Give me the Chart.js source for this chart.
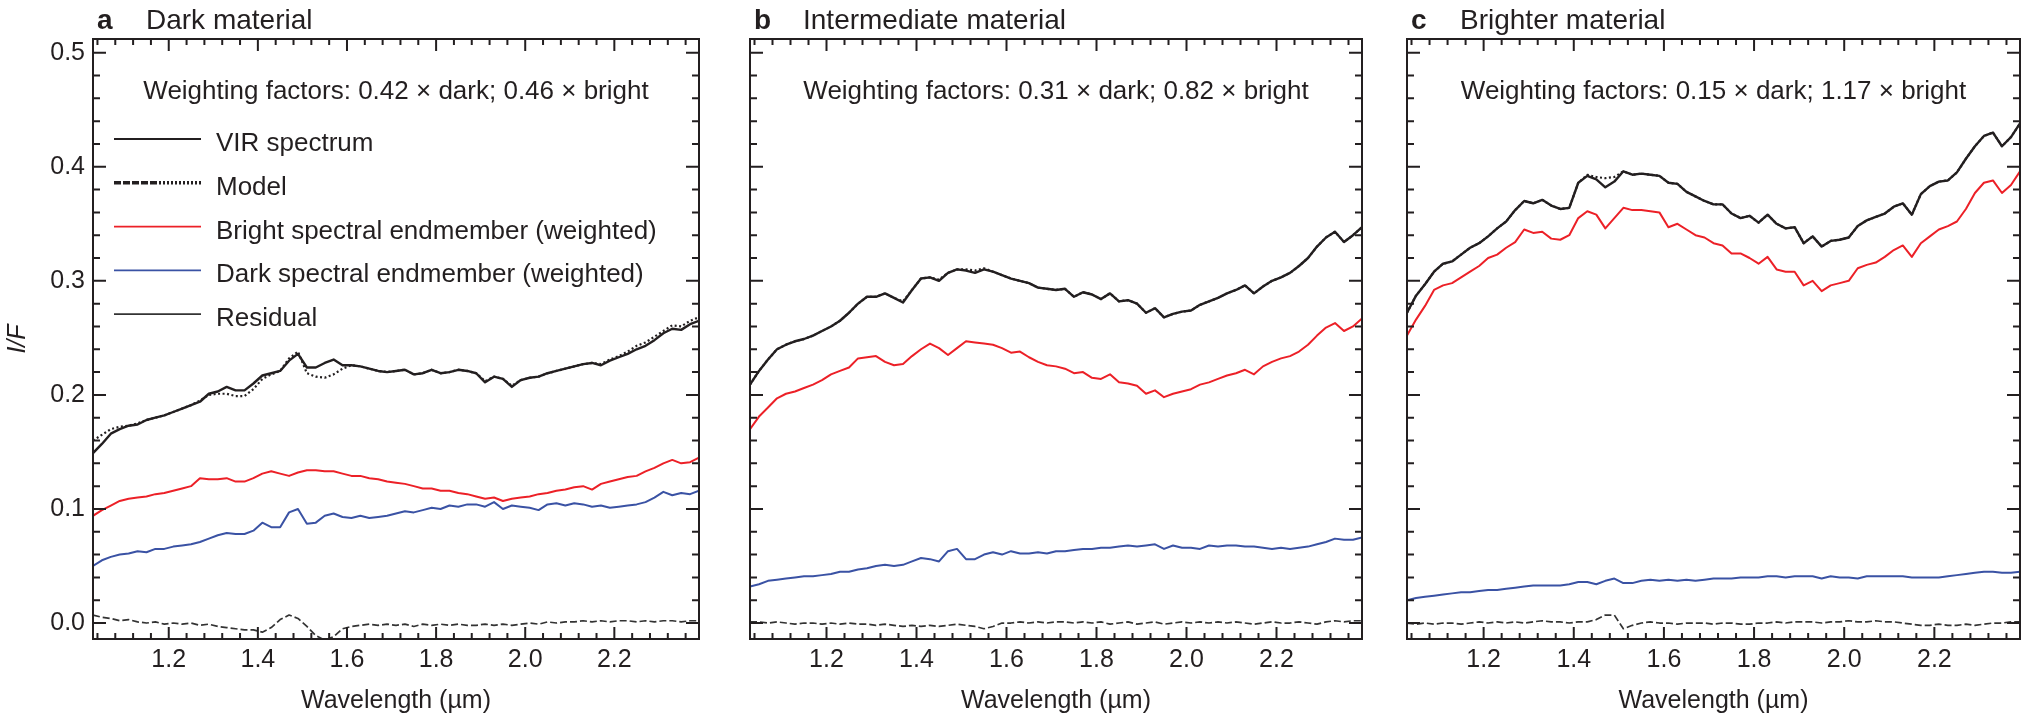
<!DOCTYPE html>
<html>
<head>
<meta charset="utf-8">
<title>VIR spectra - linear mixing of dark and bright endmembers</title>
<script src="https://cdn.jsdelivr.net/npm/chart.js@4.4.1/dist/chart.umd.min.js"></script>
<style>
  html, body { margin: 0; padding: 0; background: #ffffff; }
  #wrap { position: relative; width: 2034px; height: 720px; }
  #wrap canvas { position: absolute; left: 0; top: 0; }
</style>
</head>
<body>
<div id="wrap">
  <canvas id="panel_a" width="2034" height="720"></canvas>
  <canvas id="panel_b" width="2034" height="720"></canvas>
  <canvas id="panel_c" width="2034" height="720"></canvas>
</div>
<script>
"use strict";

// ---- data ----

// wavelength grid, micrometres
const wavelengths = [
  1.03, 1.05, 1.07, 1.09, 1.11, 1.13, 1.15, 1.17, 1.19, 1.21,
  1.23, 1.25, 1.27, 1.29, 1.31, 1.33, 1.35, 1.37, 1.39, 1.41,
  1.43, 1.45, 1.47, 1.49, 1.51, 1.53, 1.55, 1.57, 1.59, 1.61,
  1.63, 1.65, 1.67, 1.69, 1.71, 1.73, 1.75, 1.77, 1.79, 1.81,
  1.83, 1.85, 1.87, 1.89, 1.91, 1.93, 1.95, 1.97, 1.99, 2.01,
  2.03, 2.05, 2.07, 2.09, 2.11, 2.13, 2.15, 2.17, 2.19, 2.21,
  2.23, 2.25, 2.27, 2.29, 2.31, 2.33, 2.35, 2.37, 2.39
];

// tick labels
const xTickValues = [1.2, 1.4, 1.6, 1.8, 2.0, 2.2];
const yTickValues = [0.0, 0.1, 0.2, 0.3, 0.4, 0.5];

// panel a : dark material
const aVir = [
  0.149, 0.157, 0.166, 0.170, 0.173, 0.174, 0.178, 0.180, 0.182, 0.185,
  0.188, 0.191, 0.194, 0.201, 0.203, 0.207, 0.204, 0.204, 0.210, 0.217,
  0.219, 0.221, 0.230, 0.236, 0.224, 0.224, 0.228, 0.231, 0.226, 0.226,
  0.225, 0.223, 0.221, 0.220, 0.221, 0.222, 0.218, 0.219, 0.222, 0.219,
  0.220, 0.222, 0.221, 0.219, 0.211, 0.216, 0.214, 0.207, 0.213, 0.215,
  0.216, 0.219, 0.221, 0.223, 0.225, 0.227, 0.228, 0.226, 0.230, 0.233,
  0.236, 0.240, 0.243, 0.248, 0.254, 0.258, 0.257, 0.262, 0.265
];
const aModel = [
  0.160, 0.165, 0.170, 0.172, 0.173, 0.175, 0.178, 0.180, 0.182, 0.185,
  0.188, 0.191, 0.195, 0.200, 0.201, 0.201, 0.199, 0.199, 0.205, 0.214,
  0.218, 0.221, 0.232, 0.238, 0.219, 0.216, 0.215, 0.218, 0.223, 0.226,
  0.225, 0.223, 0.221, 0.220, 0.221, 0.222, 0.218, 0.219, 0.222, 0.219,
  0.220, 0.222, 0.221, 0.219, 0.212, 0.216, 0.214, 0.208, 0.213, 0.215,
  0.216, 0.219, 0.221, 0.223, 0.225, 0.227, 0.228, 0.227, 0.231, 0.234,
  0.238, 0.243, 0.246, 0.251, 0.256, 0.261, 0.260, 0.265, 0.268
];
const aBright = [
  0.094, 0.099, 0.103, 0.107, 0.109, 0.110, 0.111, 0.113, 0.114, 0.116,
  0.118, 0.120, 0.127, 0.126, 0.126, 0.127, 0.124, 0.124, 0.127, 0.131,
  0.133, 0.131, 0.129, 0.132, 0.134, 0.134, 0.133, 0.133, 0.131, 0.129,
  0.129, 0.127, 0.126, 0.124, 0.123, 0.122, 0.120, 0.118, 0.118, 0.116,
  0.116, 0.114, 0.113, 0.111, 0.109, 0.110, 0.107, 0.109, 0.110, 0.111,
  0.113, 0.114, 0.116, 0.117, 0.119, 0.120, 0.117, 0.122, 0.124, 0.126,
  0.128, 0.129, 0.133, 0.136, 0.140, 0.143, 0.140, 0.141, 0.145
];
const aDarkEnd = [
  0.050, 0.055, 0.058, 0.060, 0.061, 0.063, 0.062, 0.065, 0.065, 0.067,
  0.068, 0.069, 0.071, 0.074, 0.077, 0.079, 0.078, 0.078, 0.081, 0.088,
  0.084, 0.084, 0.097, 0.100, 0.087, 0.088, 0.094, 0.096, 0.093, 0.092,
  0.094, 0.092, 0.093, 0.094, 0.096, 0.098, 0.097, 0.099, 0.101, 0.100,
  0.103, 0.102, 0.104, 0.104, 0.102, 0.106, 0.100, 0.103, 0.102, 0.101,
  0.099, 0.104, 0.105, 0.103, 0.105, 0.104, 0.102, 0.103, 0.101, 0.102,
  0.103, 0.104, 0.106, 0.110, 0.115, 0.112, 0.114, 0.113, 0.116
];
const aResidual = [
  0.007, 0.005, 0.004, 0.002, 0.003, 0.001, 0.000, 0.001, -0.001, 0.000,
  -0.001, 0.000, -0.002, -0.001, -0.003, -0.004, -0.005, -0.006, -0.006, -0.008,
  -0.004, 0.003, 0.007, 0.004, -0.003, -0.011, -0.015, -0.012, -0.005, -0.003,
  -0.002, -0.001, -0.002, -0.001, -0.002, -0.001, -0.003, -0.001, -0.002, -0.001,
  -0.002, -0.001, -0.002, -0.002, -0.001, -0.002, -0.001, -0.002, -0.001, 0.000,
  -0.001, 0.001, 0.000, 0.001, 0.001, 0.002, 0.001, 0.002, 0.001, 0.002,
  0.002, 0.001, 0.002, 0.001, 0.002, 0.002, 0.001, 0.002, 0.002
];

// panel b : intermediate material
const bVir = [
  0.209, 0.221, 0.231, 0.240, 0.244, 0.247, 0.249, 0.252, 0.256, 0.260,
  0.265, 0.272, 0.280, 0.286, 0.286, 0.289, 0.285, 0.281, 0.292, 0.302,
  0.303, 0.300, 0.307, 0.310, 0.309, 0.307, 0.310, 0.308, 0.305, 0.302,
  0.300, 0.298, 0.294, 0.293, 0.292, 0.293, 0.286, 0.290, 0.288, 0.284,
  0.289, 0.282, 0.283, 0.280, 0.272, 0.276, 0.268, 0.271, 0.273, 0.274,
  0.279, 0.282, 0.285, 0.289, 0.292, 0.296, 0.289, 0.295, 0.300, 0.303,
  0.307, 0.313, 0.320, 0.330, 0.338, 0.343, 0.334, 0.340, 0.347
];
const bModel = [
  0.209, 0.221, 0.231, 0.240, 0.244, 0.247, 0.249, 0.252, 0.256, 0.260,
  0.265, 0.272, 0.280, 0.286, 0.286, 0.289, 0.285, 0.282, 0.292, 0.302,
  0.303, 0.301, 0.307, 0.310, 0.310, 0.309, 0.311, 0.308, 0.305, 0.302,
  0.300, 0.298, 0.294, 0.293, 0.292, 0.293, 0.286, 0.290, 0.288, 0.284,
  0.289, 0.282, 0.283, 0.280, 0.272, 0.276, 0.268, 0.271, 0.273, 0.274,
  0.279, 0.282, 0.285, 0.289, 0.292, 0.296, 0.289, 0.295, 0.300, 0.303,
  0.307, 0.313, 0.320, 0.330, 0.338, 0.343, 0.334, 0.340, 0.347
];
const bBright = [
  0.170, 0.181, 0.189, 0.197, 0.201, 0.203, 0.206, 0.209, 0.213, 0.218,
  0.221, 0.224, 0.232, 0.233, 0.234, 0.229, 0.226, 0.227, 0.234, 0.240,
  0.245, 0.241, 0.235, 0.241, 0.247, 0.246, 0.245, 0.244, 0.241, 0.237,
  0.238, 0.233, 0.229, 0.226, 0.225, 0.223, 0.219, 0.220, 0.215, 0.214,
  0.218, 0.211, 0.210, 0.208, 0.201, 0.204, 0.198, 0.201, 0.203, 0.205,
  0.209, 0.211, 0.214, 0.217, 0.219, 0.222, 0.218, 0.225, 0.229, 0.232,
  0.234, 0.238, 0.244, 0.252, 0.259, 0.263, 0.256, 0.260, 0.267
];
const bDarkEnd = [
  0.032, 0.034, 0.037, 0.038, 0.039, 0.040, 0.041, 0.041, 0.042, 0.043,
  0.045, 0.045, 0.047, 0.048, 0.050, 0.051, 0.050, 0.051, 0.054, 0.057,
  0.056, 0.054, 0.063, 0.065, 0.056, 0.056, 0.060, 0.062, 0.060, 0.063,
  0.061, 0.061, 0.062, 0.061, 0.063, 0.063, 0.064, 0.065, 0.065, 0.066,
  0.066, 0.067, 0.068, 0.067, 0.068, 0.069, 0.065, 0.068, 0.066, 0.066,
  0.065, 0.068, 0.067, 0.068, 0.068, 0.067, 0.067, 0.066, 0.065, 0.066,
  0.065, 0.066, 0.067, 0.069, 0.071, 0.074, 0.073, 0.073, 0.075
];
const bResidual = [
  0.001, 0.001, 0.000, 0.001, 0.000, -0.001, 0.000, 0.000, -0.001, 0.000,
  -0.001, 0.000, -0.001, -0.001, -0.002, -0.001, -0.002, -0.003, -0.002, -0.003,
  -0.002, -0.003, -0.002, -0.001, -0.002, -0.003, -0.005, -0.003, 0.000, 0.000,
  0.001, 0.000, 0.001, 0.000, 0.001, 0.001, 0.000, 0.001, 0.000, 0.001,
  -0.001, 0.000, 0.001, -0.001, 0.000, 0.001, -0.001, 0.000, 0.001, 0.000,
  0.001, 0.000, 0.001, 0.000, 0.001, 0.000, -0.001, 0.000, 0.001, 0.000,
  0.000, 0.001, 0.000, -0.001, 0.001, 0.002, 0.001, 0.002, 0.002
];

// panel c : brighter material
const cVir = [
  0.272, 0.287, 0.297, 0.308, 0.315, 0.317, 0.323, 0.329, 0.333, 0.339,
  0.346, 0.352, 0.362, 0.370, 0.368, 0.371, 0.366, 0.363, 0.364, 0.386,
  0.392, 0.389, 0.382, 0.387, 0.396, 0.393, 0.394, 0.393, 0.392, 0.386,
  0.385, 0.378, 0.374, 0.370, 0.367, 0.367, 0.359, 0.355, 0.357, 0.351,
  0.358, 0.350, 0.346, 0.347, 0.333, 0.339, 0.330, 0.335, 0.336, 0.338,
  0.348, 0.353, 0.356, 0.359, 0.365, 0.368, 0.358, 0.376, 0.383, 0.387,
  0.388, 0.395, 0.407, 0.418, 0.427, 0.430, 0.418, 0.426, 0.438
];
const cModel = [
  0.272, 0.287, 0.297, 0.308, 0.315, 0.317, 0.323, 0.329, 0.333, 0.339,
  0.346, 0.352, 0.362, 0.370, 0.368, 0.371, 0.366, 0.363, 0.364, 0.386,
  0.393, 0.391, 0.390, 0.391, 0.396, 0.393, 0.394, 0.393, 0.392, 0.386,
  0.385, 0.378, 0.374, 0.370, 0.367, 0.367, 0.359, 0.355, 0.357, 0.351,
  0.358, 0.350, 0.346, 0.347, 0.333, 0.339, 0.330, 0.335, 0.336, 0.338,
  0.348, 0.353, 0.356, 0.359, 0.365, 0.368, 0.358, 0.376, 0.383, 0.387,
  0.388, 0.395, 0.407, 0.418, 0.427, 0.430, 0.418, 0.426, 0.438
];
const cBright = [
  0.252, 0.266, 0.278, 0.292, 0.296, 0.298, 0.303, 0.308, 0.313, 0.320,
  0.323, 0.329, 0.334, 0.345, 0.342, 0.343, 0.337, 0.336, 0.340, 0.355,
  0.361, 0.358, 0.346, 0.355, 0.364, 0.362, 0.362, 0.361, 0.360, 0.347,
  0.350, 0.345, 0.340, 0.338, 0.333, 0.331, 0.324, 0.324, 0.320, 0.315,
  0.321, 0.310, 0.308, 0.308, 0.296, 0.300, 0.291, 0.296, 0.298, 0.300,
  0.311, 0.314, 0.316, 0.321, 0.327, 0.331, 0.321, 0.333, 0.339, 0.345,
  0.348, 0.352, 0.363, 0.377, 0.386, 0.388, 0.377, 0.384, 0.396
];
const cDarkEnd = [
  0.020, 0.022, 0.023, 0.024, 0.025, 0.026, 0.027, 0.027, 0.028, 0.029,
  0.029, 0.030, 0.031, 0.032, 0.033, 0.033, 0.033, 0.033, 0.034, 0.036,
  0.036, 0.034, 0.037, 0.039, 0.035, 0.035, 0.037, 0.038, 0.037, 0.038,
  0.037, 0.038, 0.037, 0.038, 0.039, 0.039, 0.039, 0.040, 0.040, 0.040,
  0.041, 0.041, 0.040, 0.041, 0.041, 0.041, 0.039, 0.041, 0.040, 0.040,
  0.039, 0.041, 0.041, 0.041, 0.041, 0.041, 0.040, 0.040, 0.040, 0.040,
  0.041, 0.042, 0.043, 0.044, 0.045, 0.045, 0.044, 0.044, 0.045
];
const cResidual = [
  0.000, -0.001, 0.000, -0.001, 0.000, 0.000, -0.001, 0.000, 0.001, 0.000,
  0.001, 0.000, 0.001, 0.000, 0.001, 0.002, 0.001, 0.001, 0.000, 0.001,
  0.001, 0.003, 0.007, 0.007, -0.005, -0.002, 0.000, 0.001, 0.000, 0.000,
  -0.001, 0.000, 0.000, 0.000, -0.001, 0.000, 0.000, -0.001, -0.001, 0.000,
  0.000, 0.001, 0.000, 0.001, 0.001, 0.001, 0.000, 0.001, 0.001, 0.002,
  0.001, 0.001, 0.002, 0.001, 0.001, 0.000, -0.001, -0.002, -0.002, -0.001,
  -0.002, -0.002, -0.001, -0.002, -0.001, 0.000, 0.000, 0.001, 0.001
];


// ---- look ----

const INK = '#231f20';
const RED = '#ec2027';
const BLUE = '#3a52a4';
const FONT_FAMILY = '"Liberation Sans", Arial, Helvetica, sans-serif';

const X_MIN = 1.03, X_MAX = 2.39;
const Y_MIN = -0.014, Y_MAX = 0.512;

Chart.defaults.font.family = FONT_FAMILY;
Chart.defaults.color = INK;


function toPoints(_values) {
  return wavelengths.map(function(_w, _i) { return { x: _w, y: _values[_i] }; });
}


// box, inward ticks (all four sides), panel label, weighting note and legend
const framePlugin = {
  id: 'frame',

  afterDatasetsDraw(chart, args, opts) {
    const _ctx = chart.ctx;
    const _area = chart.chartArea;
    const _x = chart.scales.x;
    const _y = chart.scales.y;

    _ctx.save();
    _ctx.strokeStyle = INK;
    _ctx.lineWidth = 2;
    _ctx.setLineDash([]);
    _ctx.strokeRect(_area.left, _area.top, _area.right - _area.left, _area.bottom - _area.top);

    // x ticks every 0.04, long ones every 0.2
    _ctx.beginPath();
    for (let k = 26; k * 0.04 <= X_MAX + 1e-9; k++) {
      const _px = _x.getPixelForValue(k * 0.04);
      const _len = (k % 5 === 0) ? 12 : 6;
      _ctx.moveTo(_px, _area.bottom); _ctx.lineTo(_px, _area.bottom - _len);
      _ctx.moveTo(_px, _area.top);    _ctx.lineTo(_px, _area.top + _len);
    }
    // y ticks every 0.02, long ones every 0.1
    for (let k = 0; k <= 25; k++) {
      const _py = _y.getPixelForValue(k * 0.02);
      const _len = (k % 5 === 0) ? 13 : 7;
      _ctx.moveTo(_area.left, _py);  _ctx.lineTo(_area.left + _len, _py);
      _ctx.moveTo(_area.right, _py); _ctx.lineTo(_area.right - _len, _py);
    }
    _ctx.stroke();

    // panel title
    _ctx.fillStyle = INK;
    _ctx.textBaseline = 'alphabetic';
    _ctx.textAlign = 'left';
    _ctx.font = 'bold 28px ' + FONT_FAMILY;
    _ctx.fillText(opts.letter, _area.left + 4, 29);
    _ctx.font = '28px ' + FONT_FAMILY;
    _ctx.fillText(opts.title, _area.left + 53, 29);

    // weighting factors
    _ctx.font = '26px ' + FONT_FAMILY;
    _ctx.textAlign = 'center';
    _ctx.fillText(opts.weights, (_area.left + _area.right) / 2, _area.top + 60);

    // legend (panel a only)
    if (opts.legend) {
      _ctx.textAlign = 'left';
      chart.data.datasets.forEach(function(_ds, _i) {
        const _base = _area.top + 112 + _i * 43.8;
        const _ly = _base - 12;
        _ctx.strokeStyle = _ds.borderColor;
        _ctx.lineWidth = _ds.legendWidth || _ds.borderWidth;
        _ctx.setLineDash(_ds.legendDash || _ds.borderDash || []);
        _ctx.beginPath();
        _ctx.moveTo(_area.left + 21, _ly);
        _ctx.lineTo(_area.left + 108, _ly);
        _ctx.stroke();
        _ctx.setLineDash([]);
        _ctx.fillText(_ds.label, _area.left + 123, _base);
      });
    }
    _ctx.restore();
  }   // EndOf afterDatasetsDraw
};


function buildDatasets(_vir, _model, _bright, _dark, _resid) {
  return [
    { label: 'VIR spectrum', data: toPoints(_vir), borderColor: INK, borderWidth: 2.4, legendWidth: 2 },
    { label: 'Model', data: toPoints(_model), borderColor: INK, borderWidth: 2.2,
      borderDash: [2, 2.5], legendWidth: 3.5,
      legendDash: [7, 2, 7, 2, 7, 2, 7, 2, 7, 2, 2, 2, 2, 2, 2, 2, 2, 2, 2, 2, 2, 2, 2, 2, 2, 2, 2, 2, 2, 2] },
    { label: 'Bright spectral endmember (weighted)', data: toPoints(_bright), borderColor: RED, borderWidth: 2, legendWidth: 1.8 },
    { label: 'Dark spectral endmember (weighted)', data: toPoints(_dark), borderColor: BLUE, borderWidth: 2, legendWidth: 1.8 },
    { label: 'Residual', data: toPoints(_resid), borderColor: '#333333', borderWidth: 1.7,
      borderDash: [7, 3], legendDash: [], legendWidth: 1.8 }
  ];
}


function buildScales(_showY) {
  return {
    x: {
      type: 'linear',
      min: X_MIN,
      max: X_MAX,
      afterBuildTicks: function(_s) { _s.ticks = xTickValues.map(function(_v) { return { value: _v }; }); },
      afterFit: function(_s) { _s.height = 81; },
      grid: { display: false, drawTicks: false },
      border: { display: false },
      ticks: {
        padding: 6, maxRotation: 0, autoSkip: false, color: INK,
        font: { size: 25 },
        callback: function(_v) { return Number(_v).toFixed(1); }
      },
      title: { display: true, text: 'Wavelength (µm)', color: INK, font: { size: 25 }, padding: { top: 0, bottom: 4 } }
    },
    y: {
      type: 'linear',
      min: Y_MIN,
      max: Y_MAX,
      afterBuildTicks: function(_s) { _s.ticks = yTickValues.map(function(_v) { return { value: _v }; }); },
      afterFit: function(_s) { _s.width = _showY ? 93 : 0; },
      grid: { display: false, drawTicks: false },
      border: { display: false },
      ticks: {
        display: _showY, padding: 8, color: INK,
        font: { size: 25 },
        callback: function(_v) { return Number(_v).toFixed(1); }
      },
      title: { display: _showY, text: 'I/F', color: INK, font: { size: 25, style: 'italic' }, padding: { top: 3, bottom: 0 } }
    }
  };
}


function makePanel(_id, _padding, _showY, _datasets, _frame) {
  return new Chart(document.getElementById(_id), {
    type: 'line',
    data: { datasets: _datasets },
    options: {
      responsive: false,
      animation: false,
      events: [],
      layout: { padding: _padding },
      elements: { point: { radius: 0 }, line: { tension: 0, borderJoinStyle: 'round' } },
      plugins: { legend: { display: false }, tooltip: { enabled: false }, frame: _frame },
      scales: buildScales(_showY)
    },
    plugins: [framePlugin]
  });
}


makePanel('panel_a', { left: 0, top: 39, right: 1335, bottom: 0 }, true,
  buildDatasets(aVir, aModel, aBright, aDarkEnd, aResidual),
  { letter: 'a', title: 'Dark material', weights: 'Weighting factors: 0.42 × dark; 0.46 × bright', legend: true });

makePanel('panel_b', { left: 750, top: 39, right: 672, bottom: 0 }, false,
  buildDatasets(bVir, bModel, bBright, bDarkEnd, bResidual),
  { letter: 'b', title: 'Intermediate material', weights: 'Weighting factors: 0.31 × dark; 0.82 × bright', legend: false });

makePanel('panel_c', { left: 1407, top: 39, right: 14, bottom: 0 }, false,
  buildDatasets(cVir, cModel, cBright, cDarkEnd, cResidual),
  { letter: 'c', title: 'Brighter material', weights: 'Weighting factors: 0.15 × dark; 1.17 × bright', legend: false });
</script>
</body>
</html>
